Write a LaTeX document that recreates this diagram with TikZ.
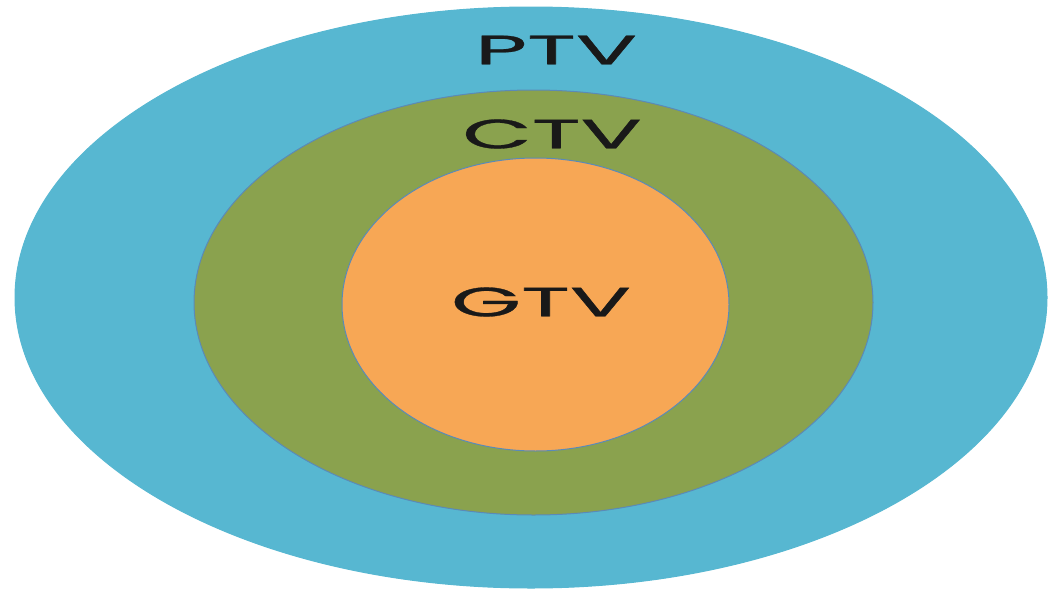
\documentclass[tikz,border=0pt]{standalone}
\usepackage{fontspec}
\newfontfamily\zonefont{Poppins}[FakeBold=0.7]
\usetikzlibrary{shapes.geometric}
\definecolor{ptvblue}{HTML}{57B7D1}
\definecolor{ctvgreen}{HTML}{8AA24E}
\definecolor{gtvorange}{HTML}{F7A755}
\definecolor{rimblue}{HTML}{5A8AB8}
\begin{document}
\begin{tikzpicture}[x=1pt,y=-1pt,
    zone/.style={ellipse, inner sep=0pt, draw=rimblue, line width=1pt},
    zonelabel/.style={font=\zonefont\fontsize{41}{41}\selectfont, text=black!90, xscale=2.2, transform shape}]
          \useasboundingbox (0,0) rectangle (1049,589); % page size of the picture

          \node [zone, fill=ptvblue, draw=ptvblue, minimum width=1032, minimum height=581] (ptv) at (531,297.5) {}; % outer zone
          \node [zone, fill=ctvgreen, minimum width=679, minimum height=425] (ctv) at (533.5,302.5) {}; % middle zone
          \node [zone, fill=gtvorange, minimum width=387, minimum height=293] (gtv) at (535.5,304.5) {}; % inner zone

          \node [zonelabel] (ptvlabel) at (556,50) {PTV};
          \node [zonelabel] (ctvlabel) at (552,134) {CTV};
          \node [zonelabel] (gtvlabel) at (541,302) {GTV};
        \end{tikzpicture}
\end{document}
